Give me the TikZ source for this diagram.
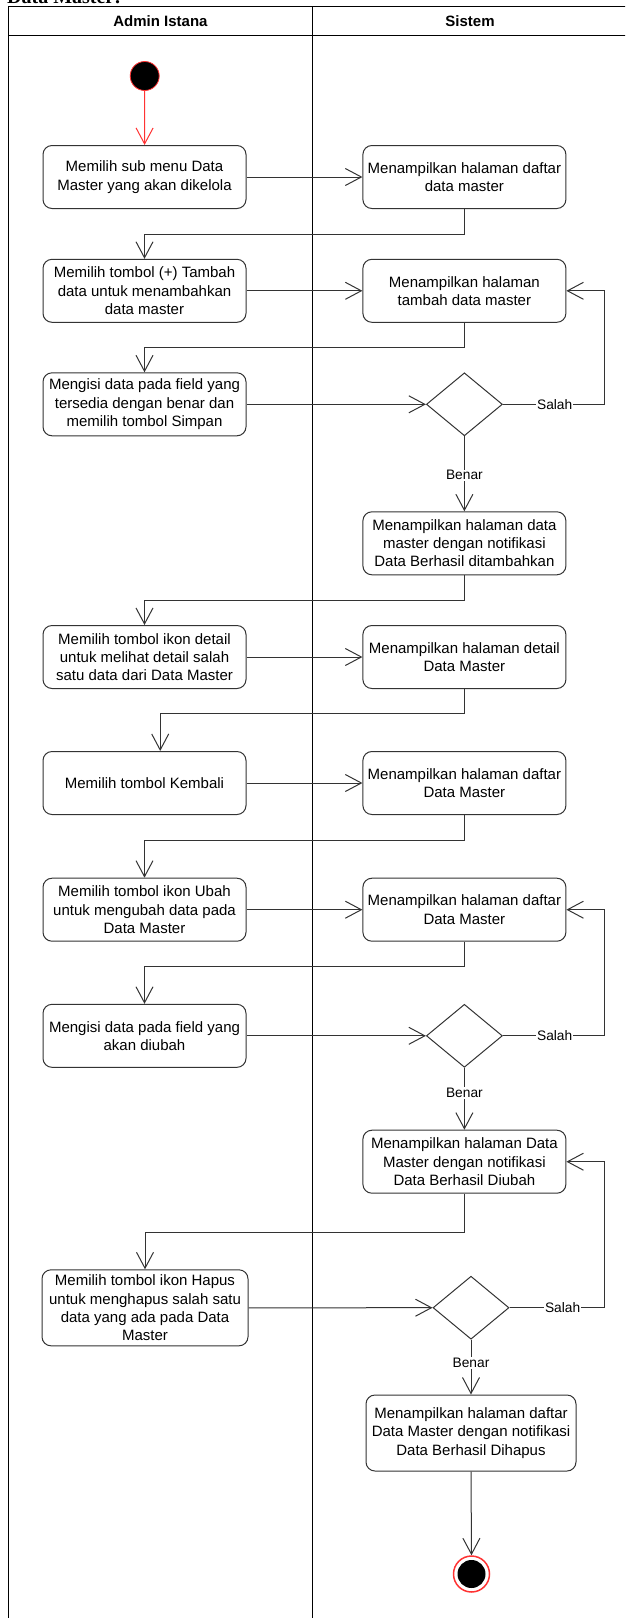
\documentclass[tikz,border=0pt]{standalone}
\usepackage{fontspec}
\setmainfont{Liberation Sans}
\newfontfamily\titlefont{Liberation Serif}
\usetikzlibrary{arrows.meta,shapes.geometric}
\definecolor{strokegray}{HTML}{333333}
\definecolor{startred}{HTML}{FF3333}

\begin{document}
\begin{tikzpicture}[x=1pt,y=-1pt,
        act/.style={draw=strokegray, line width=1pt, rounded corners=9pt, minimum width=203pt, minimum height=63pt, inner sep=0pt, align=center, font=\fontsize{15}{18.3}\selectfont},
        decision/.style={draw=strokegray, line width=1pt, diamond, minimum width=76pt, minimum height=63pt, inner sep=0pt},
        flow/.style={draw=strokegray, line width=1pt, -{Straight Barb[length=16pt,width=17pt]}},
        startflow/.style={draw=startred, line width=1pt, -{Straight Barb[length=16pt,width=17pt]}},
        guard/.style={fill=white, inner sep=1pt, font=\fontsize{13.75}{16}\selectfont},
        lanehead/.style={font=\bfseries\fontsize{15}{18}\selectfont},
        initial/.style={circle, draw=startred, fill=black, line width=0.8pt, minimum size=29pt, inner sep=0pt},
        final/.style={circle, draw=startred, fill=white, line width=1.5pt, minimum size=36pt, inner sep=0pt}]
        \useasboundingbox (0,0) rectangle (625,1618);
        \clip (0,0) rectangle (625,1618);

        \node[anchor=base west, inner sep=0pt, font=\titlefont\bfseries\fontsize{20}{24}\selectfont] (title) at (7,3.5) {Data Master:};

        \draw[line width=1pt] (8.8,1640) -- (8.8,6.7) -- (640,6.7);
        \draw[line width=1pt] (8.8,35) -- (640,35);
        \draw[line width=1pt] (312.9,6.7) -- (312.9,1640);
        \node[lanehead] (admin) at (160.5,21.5) {Admin Istana};
        \node[lanehead] (sistem) at (470,21.5) {Sistem};

        \node[initial] (start) at (144.7,76) {};
        \node[act] (a1) at (144.5,177) {Memilih sub menu Data\\Master yang akan dikelola};
        \node[act] (s1) at (464.4,177) {Menampilkan halaman daftar\\data master};
        \node[act] (a2) at (144.5,290.8) {Memilih tombol (+) Tambah\\data untuk menambahkan\\data master};
        \node[act] (s2) at (464.4,290.8) {Menampilkan halaman\\tambah data master};
        \node[act] (a3) at (144.5,404.3) {Mengisi data pada field yang\\tersedia dengan benar dan\\memilih tombol Simpan};
        \node[decision] (d1) at (464.4,404.3) {};
        \node[act] (s3) at (464.4,543.3) {Menampilkan halaman data\\master dengan notifikasi\\Data Berhasil ditambahkan};
        \node[act] (a4) at (144.5,657) {Memilih tombol ikon detail\\untuk melihat detail salah\\satu data dari Data Master};
        \node[act] (s4) at (464.4,657) {Menampilkan halaman detail\\Data Master};
        \node[act] (a5) at (144.5,783) {Memilih tombol Kembali};
        \node[act] (s5) at (464.4,783) {Menampilkan halaman daftar\\Data Master};
        \node[act] (a6) at (144.5,909.7) {Memilih tombol ikon Ubah\\untuk mengubah data pada\\Data Master};
        \node[act] (s6) at (464.4,909.7) {Menampilkan halaman daftar\\Data Master};
        \node[act] (a7) at (144.5,1035.8) {Mengisi data pada field yang\\akan diubah};
        \node[decision] (d2) at (464.4,1035.8) {};
        \node[act] (s7) at (464.4,1161.7) {Menampilkan halaman Data\\Master dengan notifikasi\\Data Berhasil Diubah};
        \node[act, minimum width=206pt, minimum height=76pt] (a8) at (145,1307.8) {Memilih tombol ikon Hapus\\untuk menghapus salah satu\\data yang ada pada Data\\Master};
        \node[decision] (d3) at (471,1307.7) {};
        \node[act, minimum width=210pt, minimum height=76pt] (s8) at (471,1433) {Menampilkan halaman daftar\\Data Master dengan notifikasi\\Data Berhasil Dihapus};
        \node[final] (end) at (471.5,1574) {};
        \fill (end.center) circle (14);

        \draw[startflow] (start) -- (a1);
        \draw[flow] (a1) -- (s1);
        \draw[flow] (s1.south) -- ++(0,25) -| (a2.north);
        \draw[flow] (a2) -- (s2);
        \draw[flow] (s2.south) -- ++(0,24.4) -| (a3.north);
        \draw[flow] (a3) -- (d1);
        \draw[flow] (d1.east) -- node[guard, pos=0.51] {Salah} ++(101.5,0) |- (s2.east);
        \draw[flow] (d1.south) -- node[guard, pos=0.52] {Benar} (s3.north);
        \draw[flow] (s3.south) -- ++(0,25) -| (a4.north);
        \draw[flow] (a4) -- (s4);
        \draw[flow] (s4.south) -- ++(0,24.8) -| ([xshift=15.7pt]a5.north);
        \draw[flow] (a5) -- (s5);
        \draw[flow] (s5.south) -- ++(0,25.5) -| (a6.north);
        \draw[flow] (a6) -- (s6);
        \draw[flow] (s6.south) -- ++(0,25) -| (a7.north);
        \draw[flow] (a7) -- (d2);
        \draw[flow] (d2.east) -- node[guard, pos=0.51] {Salah} ++(101.5,0) |- (s6.east);
        \draw[flow] (d2.south) -- node[guard, pos=0.41] {Benar} (s7.north);
        \draw[flow] (s7.south) -- ++(0,38.4) -| (a8.north);
        \draw[flow] (a8) -- (d3);
        \draw[flow] (d3.east) -- node[guard, pos=0.56] {Salah} ++(94.8,0) |- (s7.east);
        \draw[flow] (d3.south) -- node[guard, pos=0.42] {Benar} (s8.north);
        \draw[flow] (s8.south) -- (end.north);
    \end{tikzpicture}
\end{document}
